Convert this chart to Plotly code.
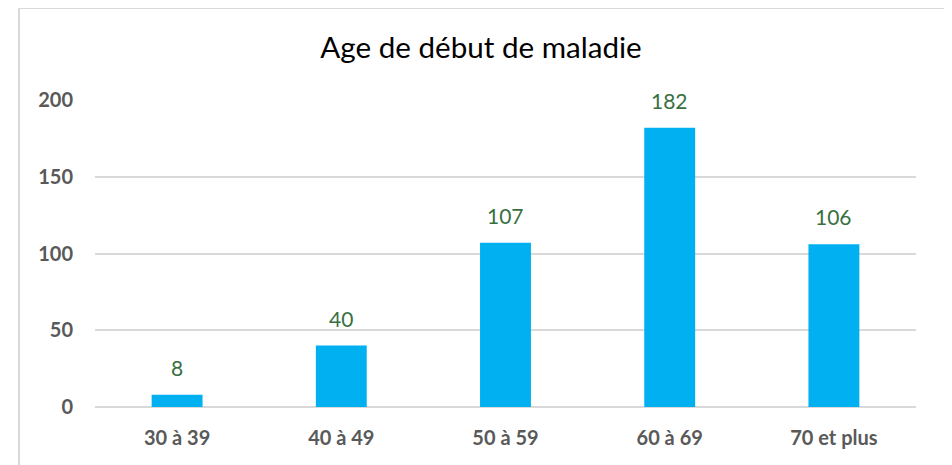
import plotly.graph_objects as go

categories = ["30 à 39", "40 à 49", "50 à 59", "60 à 69", "70 et plus"]
values = [8, 40, 107, 182, 106]
y_ticks = [0, 50, 100, 150, 200]

OFF = 8  # page offset of the figure
W, H = 952 - OFF, 465 - OFF
L, R, T, B = 95 - OFF, 36, 100 - OFF, 58
pw, ph = W - L - R, H - T - B

def px(x):
    return (x - OFF - L) / pw

def py(y):
    return (H - B - (y - OFF)) / ph

FONT = "Lato, Open Sans, sans-serif"

fig = go.Figure()
fig.add_trace(go.Bar(
    x=categories, y=values,
    marker=dict(color="#00B0F0", line=dict(width=0)),
    width=0.31,
    hoverinfo="x+y",
))

for c, v in zip(categories, values):
    fig.add_annotation(x=c, y=v, text=str(v), showarrow=False,
                       yanchor="bottom", yshift=13,
                       font=dict(family=FONT, size=21, color="#38703F"))

fig.update_layout(
    width=W, height=H,
    margin=dict(l=L, r=R, t=T, b=B),
    paper_bgcolor="white", plot_bgcolor="white",
    showlegend=False,
    title=dict(text="Age de début de maladie", x=(481 - OFF) / W, xanchor="center",
               y=1 - (48 - OFF) / H, yanchor="middle",
               font=dict(family=FONT, size=29.6, color="#000000")),
    xaxis=dict(showgrid=False, showline=False, ticks="",
               tickfont=dict(family=FONT, size=20, color="#595959", weight="bold"),
               ticklabelstandoff=17),
    yaxis=dict(range=[0, 200], tickvals=y_ticks, showgrid=True, gridcolor="#D9D9D9", gridwidth=2,
               zeroline=True, zerolinecolor="#D9D9D9", zerolinewidth=2,
               showline=False, ticks="",
               tickfont=dict(family=FONT, size=20, color="#595959", weight="bold"),
               ticklabelstandoff=21),
    bargap=0.69,
)

fig.add_shape(type="rect", xref="paper", yref="paper",
              x0=px(19), x1=px(945), y0=py(480), y1=py(8),
              line=dict(color="#D9D9D9", width=2), fillcolor="rgba(0,0,0,0)", layer="below")

fig.write_html("out.html")
